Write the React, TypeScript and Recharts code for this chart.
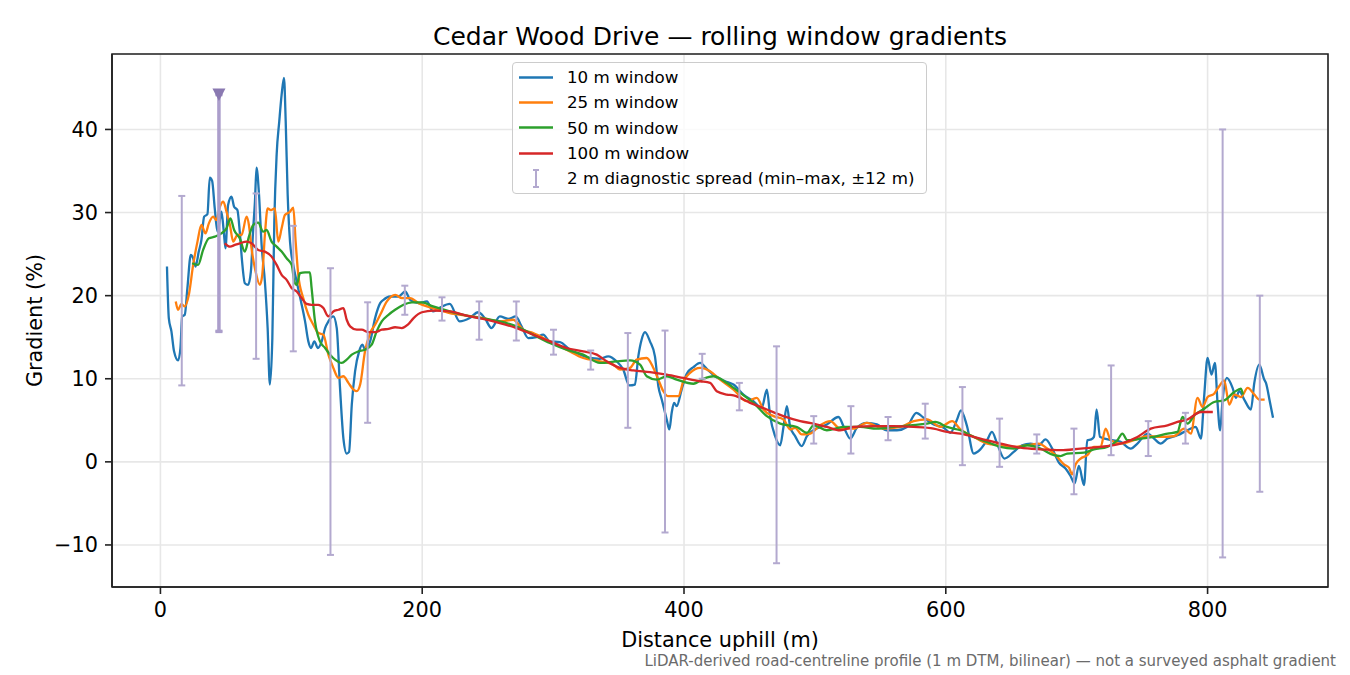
import React from 'react';
import {
  ComposedChart,
  Line,
  Scatter,
  ErrorBar,
  XAxis,
  YAxis,
  CartesianGrid,
  Legend,
  ReferenceArea,
} from 'recharts';

// [distance (m), gradient (%)]
const win10: [number, number][] = [
  [5, 23.5], [6.4, 17.3], [8.4, 15.7], [10.4, 13.3], [13.5, 12.2], [15.3, 13.7], [16.6, 17.5], [18.6, 17.7],
  [20.6, 20.9], [23.2, 24.9], [25, 24.5], [26.8, 23.5], [29.3, 25.3], [31.3, 26.7], [33.4, 29.5], [35.9, 29.8],
  [37.7, 34.2], [39.5, 33.8], [41.5, 30.5], [43.6, 27.7], [45.4, 29.1], [46.6, 30.1], [48.4, 27.7], [49.7, 25.7],
  [51.7, 30.9], [54.3, 31.9], [56.3, 30.7], [58.8, 30.3], [60.6, 27.7], [62.4, 24.1], [64.5, 21.5], [67, 21.3],
  [69.1, 22.9], [70.9, 28.1], [72.2, 31.3], [73.4, 35.4], [75.3, 32.2], [77.3, 26.1], [79.8, 21.7], [81.9, 16.1],
  [83.6, 9.3], [85.5, 14.9], [87, 28.9], [88.8, 37], [90.8, 41], [92.6, 44.2], [94.4, 46.2], [95.7, 41],
  [97.2, 32.2], [99, 26.5], [101.5, 23.7], [104.1, 21.7], [107.4, 19.3], [110.5, 16.9], [113, 14.5], [115.1, 13.7],
  [117.6, 14.5], [120.2, 13.7], [123.2, 14.5], [125.8, 16.1], [128.3, 16.9], [132.1, 17.5], [134.7, 16.1], [137.2, 8.9],
  [139.8, 2.8], [142.3, 1.0], [144.1, 1.2], [146.2, 6.9], [148.7, 10.9], [151.8, 13.3], [154.3, 14.1], [156.3, 13.5],
  [160.2, 14.5], [164, 17.3], [167.9, 19.1], [170.4, 19.5], [175.5, 19.9], [181.9, 19.9], [187, 20.5], [190.8, 19.5],
  [197.2, 19.1], [203.6, 19.3], [208.3, 18.1], [214, 18.6], [221, 19.0], [228.6, 16.9], [236.3, 17.3], [242.7, 18.0],
  [247.8, 17.3], [252.9, 16.1], [259.3, 17.5], [265.7, 17.2], [271.5, 17.5], [275.9, 16.3], [281, 14.9], [287.3, 15.0],
  [292.4, 15.3], [297.5, 14.5], [305.2, 14.4], [312.8, 13.5], [320.5, 12.9], [328.1, 12.5], [335.8, 12.4], [342.1, 12.7],
  [348.5, 12.1], [353.6, 11.1], [358.2, 9.2], [362.5, 9.3], [365.1, 12.7], [367.6, 14.7], [370.2, 15.6], [374, 14.5],
  [377.8, 12.7], [380.4, 9.1], [383, 7.5], [386.8, 5.1], [388.8, 3.9], [390.6, 5.9], [392.4, 7.1], [394.4, 6.7],
  [398.2, 8.7], [402.1, 10.6], [407.2, 11.4], [412.3, 11.9], [417.4, 11.2], [423.7, 10.3], [431.4, 9.7], [437.8, 9.3],
  [445.4, 8.1], [453, 7.3], [459.4, 6.5], [463.3, 8.7], [465.8, 5.5], [469.6, 3.1], [473.5, 2.0], [476, 4.2],
  [478.6, 6.7], [481.1, 4.2], [484.9, 3.1], [490, 1.9], [493.9, 3.1], [498.9, 3.8], [509.1, 4.5], [518, 5.4],
  [523.1, 3.8], [527, 2.8], [532.1, 4.1], [539.7, 4.7], [547.4, 4.5], [555, 3.8], [562.7, 3.8], [570.3, 4.2],
  [577.5, 5.9], [583.1, 5.3], [590.7, 4.5], [598.4, 4.1], [603.5, 3.5], [608.6, 5.1], [611.6, 6.2], [616.2, 4.3],
  [621.3, 1.0], [626.4, 1.5], [631.5, 2.6], [635.3, 3.6], [639.2, 2.2], [644.8, 0.4], [651.9, 1.2], [658.3, 2.0],
  [664.7, 2.2], [671.1, 2.0], [676.2, 2.7], [681.3, 1.6], [686.4, -0.1], [691.5, -0.8], [695.3, -1.7], [698.4, -2.6],
  [701.7, -0.5], [705.6, -2.8], [708.1, 2.6], [711.1, 2.7], [713.2, 3.0], [715.2, 6.3], [717.8, 3.0], [721.3, 2.8],
  [727.2, 2.6], [733.6, 2.4], [741.3, 1.6], [746.4, 2.2], [754.1, 3.4], [759.1, 2.8], [764.2, 2.2], [769.3, 2.8],
  [777, 3.2], [784.6, 3.8], [791, 4.2], [794.9, 2.8], [797.4, 7.9], [800, 12.5], [803, 10.5], [805.6, 11.9],
  [807.6, 7.1], [809.6, 3.8], [811.4, 7.3], [814.7, 10.1], [819.1, 8.9], [821.6, 7.7], [824.2, 8.5], [828, 7.5],
  [833.1, 6.3], [835.7, 9.5], [839.5, 11.7], [843.3, 9.9], [844.6, 9.5], [847.5, 7.3], [850, 5.3],
];

const win25: [number, number][] = [
  [11.7, 19.3], [13.5, 18.3], [16, 19.0], [18.6, 18.7], [21.7, 20.1], [25, 23.7], [28.3, 26.5], [31.3, 28.5],
  [34.4, 27.5], [37, 28.7], [40.3, 29.5], [42.8, 29.1], [45.4, 30.7], [48, 31.3], [50.5, 30.1], [53.1, 28.5],
  [55.6, 26.5], [58.9, 27.3], [62, 27.3], [65.8, 29.5], [67.6, 28.5], [69.6, 25.7], [72.7, 22.9], [76, 21.3],
  [77.8, 22.5], [79.8, 27.3], [81.9, 30.5], [84.4, 30.3], [87.4, 30.5], [90, 26.5], [92.6, 28.1], [95.1, 29.7],
  [99, 30.1], [101.5, 30.6], [103.3, 26.5], [105.3, 22.5], [109.1, 19.7], [113, 17.7], [116.8, 16.5], [120.7, 15.5],
  [124.5, 15.3], [128.3, 12.9], [132.1, 11.3], [136, 10.1], [139.8, 10.3], [143.6, 9.5], [147.5, 8.7], [150, 8.5],
  [152.6, 9.3], [156.3, 13.3], [160.2, 15.5], [164, 16.5], [167.9, 17.7], [173, 19.3], [179.4, 20.1], [184.5, 19.7],
  [190.8, 19.7], [197.2, 19.1], [203.6, 18.7], [208.3, 18.5], [221, 17.9], [233.8, 17.6], [246.5, 17.3], [259.3, 16.9],
  [269.5, 17.1], [277.1, 15.9], [284.8, 15.5], [297.5, 14.5], [310.3, 13.5], [323, 12.5], [335.8, 12.1], [346, 11.7],
  [351.1, 11.1], [358.7, 11.3], [363.8, 12.3], [371.5, 12.5], [376.6, 11.3], [380.4, 9.9], [384.2, 8.5], [388, 7.9],
  [395.7, 7.9], [399.5, 9.7], [404.6, 10.7], [412.3, 11.3], [419.9, 10.9], [427.6, 9.9], [437.8, 8.7], [448, 7.3],
  [455.6, 7.7], [460.7, 6.3], [468.4, 5.5], [476, 5.1], [481.1, 3.9], [484.9, 4.1], [490, 3.3], [496.4, 3.4],
  [504, 4.4], [511.7, 4.9], [519.3, 4.0], [529.5, 4.0], [539.7, 4.7], [552.5, 4.0], [565.3, 4.2], [575.5, 4.9],
  [585.7, 5.1], [595.9, 4.2], [604.8, 4.9], [611.2, 3.9], [621.4, 3.0], [631.6, 2.2], [641.8, 2.0], [652, 1.8],
  [662.2, 2.0], [671.1, 2.2], [677.5, 1.6], [683.9, 0.8], [690.3, -0.3], [694.1, -0.7], [696.6, -1.5], [699.2, -0.3],
  [703, 0.4], [708.1, 0.8], [713.2, 1.8], [718.3, 1.8], [722.1, 4.0], [726, 2.6], [733.6, 2.2], [743.8, 2.6],
  [754, 3.1], [764.2, 3.0], [774.4, 3.1], [782.1, 4.0], [787.2, 3.4], [792.3, 7.7], [796.1, 6.6], [800, 7.8],
  [805, 8.2], [808.9, 9.1], [812.7, 9.8], [816.5, 6.9], [820.4, 8.1], [825.5, 7.8], [830.6, 8.9], [835.7, 8.1],
  [839.5, 7.5], [843.6, 7.5],
];

const win50: [number, number][] = [
  [24.2, 23.9], [28.8, 23.7], [32.6, 25.5], [37, 26.9], [41.6, 27.1], [46.6, 27.5], [50.5, 28.1], [53.5, 29.3],
  [56.3, 27.9], [60.6, 26.9], [64.5, 25.3], [67.6, 27.1], [70.9, 28.5], [74.7, 28.8], [78.5, 27.7], [81.1, 27.9],
  [84.9, 26.5], [88.8, 25.9], [92.6, 25.3], [96.4, 24.5], [100.3, 23.7], [102.3, 21.7], [104.1, 21.3], [106.6, 22.7],
  [110.5, 22.8], [114.2, 22.8], [115.5, 20.9], [118.1, 16.9], [121.9, 14.5], [125.8, 13.7], [129.6, 12.9], [133.4, 12.3],
  [138.5, 11.9], [142.3, 12.3], [146.2, 12.9], [151.3, 13.3], [156.3, 13.5], [161.4, 14.1], [165.2, 15.7], [169.1, 16.9],
  [174.2, 17.7], [179.3, 18.3], [185.7, 18.9], [192.1, 19.2], [199.8, 19.2], [208.3, 18.7], [221, 18.1], [233.8, 17.6],
  [249.1, 17.2], [259.3, 16.9], [272, 16.3], [284.8, 15.3], [297.5, 14.3], [310.3, 13.5], [323, 12.9], [335.8, 11.9],
  [348.5, 12.1], [358.7, 12.2], [366.4, 11.7], [371.5, 10.3], [379.1, 9.9], [386.8, 10.3], [394.4, 9.9], [407.2, 9.4],
  [414.8, 10.0], [422.5, 10.3], [432.7, 9.5], [442.9, 8.3], [453.1, 7.1], [463.3, 5.5], [473.5, 4.6], [486.3, 4.2],
  [493.9, 3.5], [499, 4.4], [509.1, 3.8], [521.9, 4.2], [534.6, 4.2], [547.4, 4.0], [560.1, 4.2], [572.9, 4.4],
  [585.6, 4.6], [592, 4.8], [600.9, 4.2], [611.2, 3.8], [621.4, 3.0], [631.6, 2.4], [641.8, 1.8], [652, 1.6],
  [662.2, 2.0], [672.4, 1.6], [682.6, 0.8], [687.7, 0.7], [692.8, 1.0], [705.6, 1.1], [713.2, 1.5], [723.4, 1.8],
  [731.1, 2.6], [734.9, 3.4], [738.8, 2.6], [749, 2.8], [759.2, 3.0], [769.4, 3.4], [777, 3.6], [780.9, 5.4],
  [784.7, 4.6], [789.8, 5.6], [797.5, 6.4], [805.1, 7.2], [812.7, 7.4], [820.4, 8.4], [825.5, 8.8], [827, 8.1],
];

const win100: [number, number][] = [
  [49.2, 26.3], [53.1, 25.9], [56.9, 26.1], [60.7, 26.3], [65.8, 26.5], [69.6, 26.3], [74.7, 25.5], [79.8, 25.3],
  [84.9, 24.7], [88.8, 23.7], [92.6, 22.5], [96.4, 21.9], [100.3, 20.9], [104.1, 20.5], [107.9, 19.7], [111.7, 19.0],
  [115.5, 18.9], [120.6, 18.9], [124.5, 18.5], [128.3, 17.5], [132.1, 18.1], [136, 18.3], [139.8, 18.5], [142.3, 17.1],
  [144.9, 16.3], [150, 15.9], [153.8, 15.9], [158.9, 15.6], [164, 15.6], [169.1, 15.9], [174.2, 16.0], [179.3, 16.2],
  [184.4, 16.1], [189, 16.5], [193.4, 17.3], [199.8, 18.0], [208.3, 18.2], [221, 18.1], [233.8, 17.6], [246.5, 17.2],
  [259.3, 16.7], [272, 16.1], [284.8, 15.3], [297.5, 14.5], [310.3, 13.7], [323, 13.3], [333.3, 12.9], [340.9, 12.1],
  [351.1, 11.3], [361.3, 11.0], [374.1, 10.8], [386.8, 10.5], [399.5, 10.1], [412.3, 9.7], [419.9, 9.5], [425, 8.5],
  [432.7, 8.1], [437.8, 8.0], [450.5, 7.1], [463.3, 6.3], [476, 5.5], [488.8, 4.9], [498.9, 4.6], [509.1, 4.2],
  [519.3, 3.8], [529.5, 4.2], [544.8, 4.3], [560.1, 4.3], [575.4, 4.2], [590.7, 4.0], [600.9, 3.6], [611.2, 3.4],
  [626.4, 2.8], [641.8, 2.2], [657, 1.7], [672.4, 1.5], [687.7, 1.4], [703, 1.6], [718.3, 1.8], [733.6, 2.2],
  [746.4, 3.0], [756.6, 4.0], [769.4, 4.4], [777, 4.8], [784.6, 5.1], [794.9, 6.0], [804, 6.0],
];

// 2 m diagnostic spread: position, min, max
const spreadAt = [
  16.3, 44.7, 73.1, 101.5, 129.9, 158.3, 186.7, 215.1, 243.5, 271.9, 300.3, 328.7, 357.1, 385.5, 413.9,
  442.3, 470.7, 499.1, 527.5, 555.9, 584.3, 612.7, 641.1, 669.5, 697.9, 726.3, 754.7, 783.1, 811.5, 839.9,
];
const spreadMin = [
  9.2, 15.7, 12.4, 13.3, -11.2, 4.7, 17.7, 17.0, 14.7, 14.6, 12.9, 11.1, 4.1, -8.5, 10.0,
  6.2, -12.2, 2.2, 1.0, 2.6, 2.8, -0.4, -0.6, 1.0, -3.9, 0.8, 0.7, 2.2, -11.5, -3.6,
];
const spreadMax = [
  32.0, 44.2, 32.3, 28.4, 23.3, 19.2, 21.2, 19.8, 19.3, 19.3, 15.9, 13.4, 15.5, 15.8, 13.0,
  9.5, 13.9, 5.5, 6.7, 5.4, 7.0, 9.0, 5.2, 3.3, 4.0, 11.6, 4.9, 5.9, 40.0, 20.0,
];
// bar whose max was capped (drawn with a down-triangle)
const cappedAt = [44.7];
const cappedMin = [15.7];
const cappedMax = [44.2];

const xTicks = [0, 200, 400, 600, 800];
const yTicks = [-10, 0, 10, 20, 30, 40];

const FONT = '"DejaVu Sans", "Liberation Sans", sans-serif';
const SPREAD_COLOR = '#b3a9cf';

const series = [
  { name: '10 m window', color: '#1f77b4', pts: win10 },
  { name: '25 m window', color: '#ff7f0e', pts: win25 },
  { name: '50 m window', color: '#2ca02c', pts: win50 },
  { name: '100 m window', color: '#d62728', pts: win100 },
];

const toRows = (pts: [number, number][]) => pts.map(([d, g]) => ({ d, g }));

const spreadRows = spreadAt.map((d, i) => ({
  d,
  mid: (spreadMin[i] + spreadMax[i]) / 2,
  err: (spreadMax[i] - spreadMin[i]) / 2,
}));
const cappedRows = cappedAt.map((d, i) => ({
  d,
  mid: (cappedMin[i] + cappedMax[i]) / 2,
  err: (cappedMax[i] - cappedMin[i]) / 2,
}));
const cappedTips = cappedAt.map((d, i) => ({ d, g: cappedMax[i] }));

const NoDot = () => <g />;

const TriangleDown = (props: any) => {
  const { cx, cy } = props;
  return <path d={`M${cx - 6.5},${cy - 6} L${cx + 6.5},${cy - 6} L${cx},${cy + 6.5} Z`} fill="#8a79b1" />;
};

const fmt = (v: number) => (v < 0 ? `\u2212${Math.abs(v)}` : `${v}`);

const LegendBox = () => (
  <div
    style={{
      width: 415,
      height: 132,
      boxSizing: 'border-box',
      border: '1px solid #cccccc',
      borderRadius: 4,
      background: 'rgba(255,255,255,0.8)',
      fontFamily: FONT,
      fontSize: 16.7,
      color: '#000',
      paddingTop: 1.5,
    }}
  >
    {series.map((s) => (
      <div key={s.name} style={{ display: 'flex', alignItems: 'center', height: 25.3 }}>
        <svg width={54} height={25} style={{ flex: 'none' }}>
          <line x1={6} x2={40} y1={12.5} y2={12.5} stroke={s.color} strokeWidth={2.4} />
        </svg>
        <span style={{ whiteSpace: 'nowrap' }}>{s.name}</span>
      </div>
    ))}
    <div style={{ display: 'flex', alignItems: 'center', height: 25.3 }}>
      <svg width={54} height={25} style={{ flex: 'none' }}>
        <line x1={23} x2={23} y1={4} y2={21} stroke={SPREAD_COLOR} strokeWidth={2} />
        <line x1={20} x2={26} y1={4} y2={4} stroke={SPREAD_COLOR} strokeWidth={2} />
        <line x1={20} x2={26} y1={21} y2={21} stroke={SPREAD_COLOR} strokeWidth={2} />
      </svg>
      <span style={{ whiteSpace: 'nowrap' }}>2 m diagnostic spread (min–max, ±12 m)</span>
    </div>
  </div>
);

const App: React.FC = () => {
  const tickStyle = { fontFamily: FONT, fontSize: 20.8, fill: '#000' };
  return (
    <div style={{ position: 'absolute', left: 0, top: 0, width: 1350, height: 675, background: '#fff' }}>
      <ComposedChart width={1350} height={675} margin={{ top: 54, right: 22, bottom: 58, left: 52 }}>
        <CartesianGrid stroke="#e7e7e7" strokeWidth={1.6} />
        <XAxis
          dataKey="d"
          type="number"
          domain={[-37, 892]}
          allowDataOverflow
          ticks={xTicks}
          tickFormatter={fmt}
          height={30}
          tickSize={7}
          tickMargin={8}
          tick={tickStyle}
          stroke="#222"
          tickLine={{ stroke: '#222', strokeWidth: 1.6 }}
          axisLine={{ stroke: '#222', strokeWidth: 1.6 }}
        />
        <YAxis
          type="number"
          domain={[-15.06, 49.08]}
          allowDataOverflow
          ticks={yTicks}
          tickFormatter={fmt}
          width={60}
          tickSize={7}
          tickMargin={7}
          tick={tickStyle}
          stroke="#222"
          tickLine={{ stroke: '#222', strokeWidth: 1.6 }}
          axisLine={{ stroke: '#222', strokeWidth: 1.6 }}
        />
        <ReferenceArea x1={-37} x2={892} y1={-15.06} y2={49.08} fill="none" stroke="#222" strokeWidth={1.6} />
        {series.map((s) => (
          <Line
            key={s.name}
            data={toRows(s.pts)}
            dataKey="g"
            name={s.name}
            type="monotone"
            stroke={s.color}
            strokeWidth={2.3}
            dot={false}
            activeDot={false}
            isAnimationActive={false}
          />
        ))}
        <Scatter data={spreadRows} dataKey="mid" shape={NoDot} isAnimationActive={false}>
          <ErrorBar dataKey="err" direction="y" width={3.5} stroke={SPREAD_COLOR} strokeWidth={2} />
        </Scatter>
        <Scatter data={cappedRows} dataKey="mid" shape={NoDot} isAnimationActive={false}>
          <ErrorBar dataKey="err" direction="y" width={3.5} stroke="#ab9ecb" strokeWidth={3.5} />
        </Scatter>
        <Scatter data={cappedTips} dataKey="g" shape={TriangleDown} isAnimationActive={false} />
        <Legend
          layout="vertical"
          align="center"
          verticalAlign="middle"
          content={<LegendBox />}
          wrapperStyle={{ left: 512, top: 62, width: 415, height: 132 }}
        />
      </ComposedChart>
      <svg
        width={1350}
        height={675}
        style={{ position: 'absolute', left: 0, top: 0, pointerEvents: 'none' }}
        fontFamily={FONT}
      >
        <text x={720} y={45} textAnchor="middle" fontSize={25} fill="#000">
          Cedar Wood Drive — rolling window gradients
        </text>
        <text x={720} y={646.5} textAnchor="middle" fontSize={20.8} fill="#000">
          Distance uphill (m)
        </text>
        <text
          x={41.7}
          y={320.5}
          textAnchor="middle"
          fontSize={20.8}
          fill="#000"
          transform="rotate(-90, 41.7, 320.5)"
        >
          Gradient (%)
        </text>
        <text x={1336} y={665.5} textAnchor="end" fontSize={15} fill="#6b6b6b">
          LiDAR-derived road-centreline profile (1 m DTM, bilinear) — not a surveyed asphalt gradient
        </text>
      </svg>
    </div>
  );
};

export default App;
